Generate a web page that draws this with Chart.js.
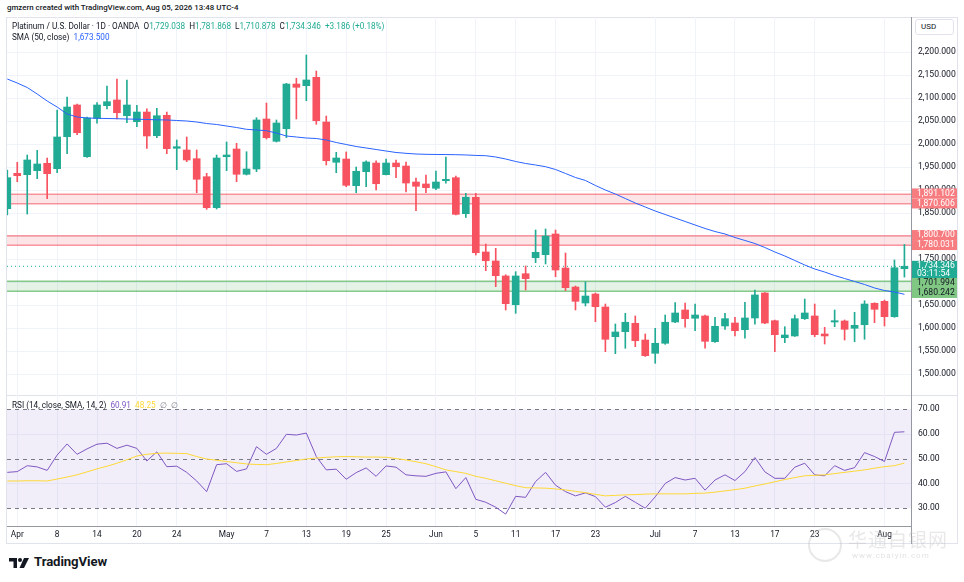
<!DOCTYPE html>
<html>
<head>
<meta charset="utf-8">
<script src="https://cdn.jsdelivr.net/npm/chart.js@4.4.0/dist/chart.umd.min.js"></script>
<style>
  body { margin: 0; background: #fff; width: 964px; height: 582px; position: relative; overflow: hidden; font-family: Roboto, "Noto Sans", sans-serif; color: #131722; }
  .abs { position: absolute; }
  .frame { left: 6px; top: 17px; width: 952px; height: 527px; border: 1px solid #e0e3eb; box-sizing: border-box; }
  .legend { font-size: 8.2px; white-space: nowrap; }
  .up { color: #22ab94; }
  .usd { left: 915px; top: 19px; width: 39px; height: 16px; border: 1px solid #e0e3eb; border-radius: 3px; box-sizing: border-box; font-size: 8px; line-height: 14px; padding-left: 5px; background: #fff; }
</style>
</head>
<body>
<div class="abs" style="left:7px;top:3px;font-size:7.9px;font-weight:500;">gmzern created with TradingView.com, Aug 05, 2026 13:48 UTC-4</div>
<div class="abs frame"></div>

<div class="abs" style="left:0;top:17px;width:964px;height:378px;"><canvas id="price" width="964" height="378"></canvas></div>
<div class="abs" style="left:6px;top:395px;width:952px;height:1px;background:#e0e3eb;"></div>
<div class="abs" style="left:0;top:395px;width:964px;height:150px;"><canvas id="rsi" width="964" height="150"></canvas></div>
<div class="abs" style="left:911px;top:17px;width:1px;height:527px;background:#9598a1;"></div>

<div class="abs legend" style="left:12px;top:21px;">Platinum / U.S. Dollar · 1D · OANDA &nbsp;O<span class="up">1,729.038</span> &nbsp;H<span class="up">1,781.868</span> &nbsp;L<span class="up">1,710.878</span> &nbsp;C<span class="up">1,734.346</span> &nbsp;<span class="up">+3.186 (+0.18%)</span></div>
<div class="abs legend" style="left:12px;top:32px;">SMA (50, close) &nbsp;<span style="color:#2962ff">1,673.500</span></div>
<div class="abs legend" style="left:12px;top:400px;">RSI (14, close, SMA, 14, 2) &nbsp;<span style="color:#7e57c2">60.91</span> &nbsp;<span style="color:#fdd835">48.25</span> &nbsp;<span style="color:#787b86">∅ &nbsp;∅</span></div>
<div class="abs usd">USD</div>

<!-- watermark -->
<div class="abs" style="left:808px;top:528px;width:30px;height:30px;border:2px solid rgba(190,190,190,0.35);border-radius:50%;"></div>
<div class="abs" style="left:848px;top:525px;font-size:19px;color:rgba(190,190,190,0.35);font-family:'Noto Sans CJK SC';letter-spacing:1px;">华通白银网</div>
<div class="abs" style="left:852px;top:551px;font-size:8px;color:rgba(190,190,190,0.45);letter-spacing:1px;">www.cbaiyin.com</div>

<!-- TradingView logo -->
<svg class="abs" style="left:9px;top:558px;" width="24" height="10" viewBox="0 0 24 10">
  <path d="M0 0 H8 V10 H4.5 V3.5 H0 Z" fill="#131722"/>
  <circle cx="11" cy="2" r="2" fill="#131722"/>
  <path d="M15 0 H20 L15 10 H10.5 Z" fill="#131722"/>
</svg>
<div class="abs" style="left:34px;top:554px;font-size:13.2px;font-weight:700;letter-spacing:-0.1px;">TradingView</div>

<script>
// trading days (Good Friday closed)
const dates = [
  '2026-03-31','2026-04-01','2026-04-02','2026-04-06','2026-04-07','2026-04-08','2026-04-09','2026-04-10','2026-04-13','2026-04-14',
  '2026-04-15','2026-04-16','2026-04-17','2026-04-20','2026-04-21','2026-04-22','2026-04-23','2026-04-24','2026-04-27','2026-04-28',
  '2026-04-29','2026-04-30','2026-05-01','2026-05-04','2026-05-05','2026-05-06','2026-05-07','2026-05-08','2026-05-11','2026-05-12',
  '2026-05-13','2026-05-14','2026-05-15','2026-05-18','2026-05-19','2026-05-20','2026-05-21','2026-05-22','2026-05-25','2026-05-26',
  '2026-05-27','2026-05-28','2026-05-29','2026-06-01','2026-06-02','2026-06-03','2026-06-04','2026-06-05','2026-06-08','2026-06-09',
  '2026-06-10','2026-06-11','2026-06-12','2026-06-15','2026-06-16','2026-06-17','2026-06-18','2026-06-19','2026-06-22','2026-06-23',
  '2026-06-24','2026-06-25','2026-06-26','2026-06-29','2026-06-30','2026-07-01','2026-07-02','2026-07-03','2026-07-06','2026-07-07',
  '2026-07-08','2026-07-09','2026-07-10','2026-07-13','2026-07-14','2026-07-15','2026-07-16','2026-07-17','2026-07-20','2026-07-21',
  '2026-07-22','2026-07-23','2026-07-24','2026-07-27','2026-07-28','2026-07-29','2026-07-30','2026-07-31','2026-08-03','2026-08-04',
  '2026-08-05'
];

const open = [
  1859.6, 1936.6, 1933.6, 1942.3, 1958.4, 1946.6, 2016.2, 2085.2, 1972.7, 2056.3,
  2083.7, 2096.1, 2061.9, 2048.9, 2069.9, 2018.4, 2062.8, 1991.0, 1987.3, 1968.4,
  1929.2, 1861.8, 1972.7, 1989.5, 1934.5, 1946.0, 2054.7, 2006.2, 2033.6, 2130.8,
  2127.2, 2145.4, 2048.2, 1960.6, 1967.7, 1909.7, 1940.1, 1959.0, 1933.6, 1959.0,
  1952.5, 1917.7, 1913.4, 1904.0, 1920.5, 1927.1, 1848.8, 1884.4, 1765.5, 1745.9,
  1713.3, 1650.8, 1718.2, 1753.0, 1759.6, 1804.6, 1730.6, 1689.3, 1654.5, 1674.1,
  1645.8, 1581.2, 1592.1, 1610.4, 1574.0, 1545.1, 1566.9, 1613.2, 1639.3, 1621.3,
  1626.3, 1570.4, 1604.5, 1611.0, 1596.5, 1621.9, 1676.3, 1616.0, 1579.1, 1582.8,
  1620.4, 1626.3, 1587.1, 1613.2, 1615.4, 1599.5, 1607.3, 1653.9, 1658.2, 1624.7,
  1729.038
];
const high = [
  1943.8, 1960.6, 1976.4, 1986.6, 1969.9, 2074.3, 2102.6, 2087.4, 2059.1, 2090.2,
  2126.5, 2141.7, 2139.6, 2084.5, 2077.1, 2078.0, 2069.9, 2009.1, 2015.6, 1987.3,
  1936.6, 1976.4, 2004.7, 2001.9, 1983.6, 2057.6, 2089.5, 2052.6, 2132.4, 2143.3,
  2193.9, 2159.1, 2061.2, 1982.3, 1983.0, 1950.3, 1964.0, 1964.0, 1967.7, 1965.6,
  1961.2, 1926.4, 1932.9, 1941.6, 1972.1, 1930.8, 1893.1, 1893.1, 1782.8, 1773.5,
  1716.0, 1722.6, 1735.0, 1813.3, 1815.5, 1813.3, 1763.3, 1691.5, 1700.8, 1676.3,
  1652.3, 1608.9, 1632.1, 1626.3, 1587.1, 1599.5, 1628.4, 1655.2, 1654.5, 1652.3,
  1628.4, 1623.4, 1632.1, 1623.4, 1656.0, 1682.8, 1677.4, 1617.5, 1603.0, 1628.4,
  1663.2, 1652.3, 1601.7, 1639.3, 1617.5, 1634.3, 1659.5, 1655.0, 1661.0, 1748.0,
  1781.868
];
const low = [
  1845.9, 1918.4, 1848.1, 1924.9, 1881.4, 1937.9, 1979.3, 2020.6, 1971.4, 2045.4,
  2076.5, 2054.7, 2046.7, 2038.0, 1991.0, 2014.1, 1979.3, 1944.5, 1961.9, 1894.4,
  1858.3, 1859.0, 1942.3, 1918.4, 1932.9, 1940.1, 2011.2, 2004.7, 2014.1, 2054.7,
  2094.5, 2043.2, 1954.7, 1937.9, 1907.5, 1894.4, 1907.5, 1900.3, 1932.9, 1927.1,
  1896.0, 1855.3, 1894.4, 1901.0, 1914.9, 1845.9, 1840.5, 1758.9, 1724.8, 1690.0,
  1639.3, 1632.1, 1682.8, 1742.2, 1739.4, 1711.7, 1681.3, 1639.3, 1648.0, 1613.8,
  1548.6, 1544.3, 1556.0, 1559.5, 1538.2, 1523.4, 1564.7, 1611.7, 1601.7, 1594.3,
  1556.0, 1568.6, 1597.3, 1582.8, 1577.8, 1608.2, 1609.5, 1548.6, 1568.2, 1581.7,
  1618.6, 1581.2, 1565.3, 1603.0, 1574.0, 1570.4, 1575.6, 1611.7, 1604.5, 1623.4,
  1710.878
];
const close = [
  1927.1, 1931.4, 1965.6, 1956.9, 1935.8, 2015.6, 2080.8, 2024.9, 2056.9, 2085.2,
  2092.4, 2068.4, 2085.2, 2069.9, 2017.8, 2061.9, 1990.1, 1994.5, 1965.6, 1923.6,
  1861.8, 1969.9, 1976.4, 1934.5, 1946.0, 2052.6, 2014.1, 2046.0, 2130.8, 2123.7,
  2139.6, 2051.0, 1964.0, 1969.9, 1910.5, 1941.0, 1961.2, 1914.0, 1959.0, 1951.0,
  1915.5, 1908.4, 1905.3, 1917.7, 1923.6, 1847.4, 1884.6, 1763.9, 1746.5, 1713.9,
  1653.0, 1713.3, 1707.4, 1764.8, 1800.2, 1726.3, 1687.8, 1658.2, 1669.7, 1646.5,
  1575.6, 1591.5, 1612.6, 1572.5, 1539.9, 1566.9, 1612.6, 1632.8, 1620.4, 1628.4,
  1571.2, 1603.8, 1620.4, 1594.3, 1621.9, 1672.0, 1611.0, 1585.6, 1584.9, 1620.4,
  1632.8, 1585.6, 1582.8, 1616.0, 1597.3, 1606.0, 1652.3, 1640.8, 1624.7, 1731.2,
  1734.346
];
const sma50 = [
  2141.7, 2133.0, 2123.2, 2109.1, 2093.9, 2080.8, 2065.6, 2059.1, 2056.9, 2056.3,
  2055.8, 2055.4, 2054.7, 2054.3, 2053.6, 2053.0, 2052.6, 2051.5, 2050.4, 2048.2,
  2044.9, 2042.8, 2039.5, 2036.2, 2032.3, 2030.8, 2029.3, 2024.2, 2017.7, 2015.6,
  2013.4, 2012.3, 2009.0, 2003.6, 1999.3, 1994.9, 1991.7, 1988.4, 1985.1, 1981.9,
  1980.1, 1978.6, 1977.9, 1977.6, 1977.4, 1977.1, 1976.5, 1975.5, 1974.9, 1972.1,
  1967.7, 1962.3, 1958.0, 1954.7, 1951.0, 1944.9, 1936.2, 1927.5, 1921.0, 1910.1,
  1900.3, 1891.6, 1881.8, 1872.0, 1863.3, 1854.6, 1847.0, 1839.4, 1831.8, 1824.2,
  1816.6, 1810.0, 1804.6, 1797.0, 1790.5, 1783.9, 1775.2, 1765.5, 1756.8, 1747.0,
  1737.2, 1728.5, 1721.9, 1714.3, 1707.8, 1701.3, 1694.8, 1687.2, 1681.7, 1678.4,
  1673.5
];
const rsi = [
  44.5, 44.8, 47.2, 46.7, 45.3, 51.5, 56.0, 51.8, 54.0, 55.9,
  56.3, 54.2, 55.5, 54.2, 49.1, 52.8, 46.8, 47.0, 44.5, 41.0,
  36.7, 47.6, 48.0, 44.9, 45.9, 54.9, 51.8, 54.2, 59.9, 59.6,
  60.4, 50.9, 45.5, 45.8, 41.7, 44.4, 46.3, 42.9, 47.1, 46.6,
  43.5, 43.1, 42.9, 44.1, 44.7, 37.9, 42.4, 33.6, 32.4, 30.4,
  27.6, 34.8, 34.4, 40.8, 44.5, 39.3, 36.7, 35.0, 36.2, 34.7,
  30.4, 32.3, 34.8, 32.4, 30.0, 34.6, 40.0, 42.4, 41.4, 42.1,
  37.3, 41.4, 43.5, 41.2, 44.8, 50.5, 44.7, 42.1, 42.1, 46.6,
  48.2, 43.5, 43.1, 47.2, 45.3, 46.4, 52.5, 50.9, 48.9, 60.7,
  60.91
];
const rsiSma = [
  41.0, 41.0, 41.1, 41.1, 41.0, 41.8, 42.6, 43.5, 44.7, 45.9,
  47.0, 48.2, 49.6, 51.1, 51.8, 52.2, 52.3, 52.2, 52.1, 50.9,
  49.9, 49.4, 48.9, 48.4, 47.9, 47.7, 47.6, 48.1, 48.7, 49.3,
  49.9, 50.3, 50.6, 50.8, 50.9, 50.8, 50.7, 50.7, 50.6, 50.1,
  49.5, 48.8, 48.0, 46.8, 45.5, 44.8, 44.1, 42.9, 42.1, 41.1,
  40.1, 39.1, 38.3, 38.2, 38.1, 37.8, 37.4, 36.8, 36.3, 35.6,
  35.0, 35.2, 35.4, 35.5, 35.7, 35.8, 35.8, 35.8, 35.8, 36.0,
  36.1, 36.5, 37.0, 37.5, 38.1, 39.0, 39.8, 40.7, 41.6, 42.4,
  43.1, 43.3, 43.5, 44.0, 44.5, 45.0, 45.5, 46.2, 46.8, 47.2,
  48.25
];

// axis ticks
const tickDates = ['2026-04-01','2026-04-08','2026-04-14','2026-04-20','2026-04-24','2026-05-01','2026-05-07','2026-05-13','2026-05-19','2026-05-25',
  '2026-06-01','2026-06-05','2026-06-11','2026-06-17','2026-06-23','2026-07-01','2026-07-07','2026-07-13','2026-07-17','2026-07-23','2026-08-03'];
const tickLabels = ['Apr','8','14','20','24','May','7','13','19','25','Jun','5','11','17','23','Jul','7','13','17','23','Aug'];
const priceTicks = [1500, 1550, 1600, 1650, 1700, 1750, 1800, 1850, 1900, 1950, 2000, 2050, 2100, 2150, 2200];
const rsiTicks = [30, 40, 50, 60, 70];

// support / resistance zones
const zoneTop = [1891.102, 1800.700, 1701.994];
const zoneBottom = [1870.606, 1780.031, 1680.242];
const zoneKind = ['red', 'red', 'green'];
const countdown = '03:11:54';

const FONT = 'Roboto, "Noto Sans", sans-serif';
const UP = '#22ab94';
const DOWN = '#f7525f';
const GRID = '#f0f3fa';
const X_MIN = -0.03, X_MAX = 90.66;

const tickIdx = tickDates.map(d => dates.indexOf(d));
const candleColors = close.map((c, i) => c >= open[i] ? UP : DOWN);
const lastClose = close[close.length - 1];

const zoneStyle = {
  red: { fill: 'rgba(242,54,69,0.13)', line: 'rgba(242,54,69,0.5)', badge: '#f77c80', text: '#ffffff' },
  green: { fill: 'rgba(76,175,80,0.15)', line: 'rgba(76,175,80,0.65)', badge: '#81c784', text: '#131722' }
};

function fmt(v, digits) {
  return v.toLocaleString('en-US', { minimumFractionDigits: digits, maximumFractionDigits: digits });
}

function hLine(ctx, area, y) {
  ctx.beginPath();
  ctx.moveTo(area.left, y);
  ctx.lineTo(area.right, y);
  ctx.stroke();
}

// no extra room for tick label overflow, the panes are laid out by hand
function noPad(s) {
  s.paddingTop = 0;
  s.paddingBottom = 0;
  s.paddingLeft = 0;
  s.paddingRight = 0;
}

const xScale = (showLabels) => ({
  type: 'linear',
  min: X_MIN,
  max: X_MAX,
  offset: false,
  afterBuildTicks: s => { s.ticks = tickIdx.map(v => ({ value: v })); },
  afterFit: s => { s.height = showLabels ? 19 : 0; noPad(s); },
  ticks: {
    display: showLabels,
    autoSkip: false,
    maxRotation: 0,
    padding: 4,
    color: '#131722',
    font: { family: FONT, size: 8.3 },
    callback: v => tickLabels[tickIdx.indexOf(v)]
  },
  grid: { color: GRID, drawTicks: false, offset: false },
  border: { display: showLabels, color: '#9598a1' }
});

const zonesPlugin = {
  id: 'zones',
  beforeDatasetsDraw(chart) {
    const { ctx, chartArea: a, scales: { y } } = chart;
    ctx.save();
    zoneTop.forEach((top, i) => {
      const st = zoneStyle[zoneKind[i]];
      const y1 = y.getPixelForValue(top);
      const y2 = y.getPixelForValue(zoneBottom[i]);
      ctx.fillStyle = st.fill;
      ctx.fillRect(a.left, y1, a.width, y2 - y1);
      ctx.strokeStyle = st.line;
      ctx.lineWidth = 1.5;
      hLine(ctx, a, y1);
      hLine(ctx, a, y2);
    });
    // last price dotted line
    ctx.strokeStyle = UP;
    ctx.lineWidth = 1;
    ctx.setLineDash([1, 3]);
    hLine(ctx, a, y.getPixelForValue(lastClose));
    ctx.restore();
  },
  afterDraw(chart) {
    const { ctx, chartArea: a, scales: { y } } = chart;
    const badges = [];
    zoneTop.forEach((top, i) => {
      const st = zoneStyle[zoneKind[i]];
      badges.push({ v: top, bg: st.badge, fg: st.text, lines: [fmt(top, 3)] });
      badges.push({ v: zoneBottom[i], bg: st.badge, fg: st.text, lines: [fmt(zoneBottom[i], 3)] });
    });
    badges.push({ v: lastClose, bg: UP, fg: '#ffffff', lines: [fmt(lastClose, 3), countdown], fixed: true });
    badges.sort((p, q) => q.v - p.v);

    let prev = null;
    badges.forEach(b => {
      b.h = b.lines.length > 1 ? 19.5 : 10;
      b.top = y.getPixelForValue(b.v) - 5.5;
      if (prev) {
        const overlap = prev.top + prev.h - b.top;
        if (overlap > 0) {
          if (prev.fixed) {
            b.top += overlap;
          } else {
            prev.top -= overlap / 2;
            b.top += overlap / 2;
          }
        }
      }
      prev = b;
    });

    ctx.save();
    ctx.font = '8.6px ' + FONT;
    ctx.textBaseline = 'middle';
    badges.forEach(b => {
      ctx.fillStyle = b.bg;
      ctx.fillRect(a.right + 1, b.top, 45, b.h);
      ctx.fillStyle = b.fg;
      b.lines.forEach((t, k) => ctx.fillText(t, a.right + 6, b.top + 5.2 + k * 8.2));
    });
    ctx.restore();
  }
};

new Chart(document.getElementById('price'), {
  type: 'bar',
  data: {
    datasets: [
      {
        type: 'line',
        data: sma50.map((v, i) => ({ x: i, y: v })),
        borderColor: '#2962ff',
        borderWidth: 1,
        pointRadius: 0,
        order: 0
      },
      {
        data: low.map((v, i) => ({ x: i, y: [v, high[i]] })),
        backgroundColor: candleColors,
        barThickness: 1,
        grouped: false,
        minBarLength: 1,
        order: 2
      },
      {
        data: open.map((v, i) => ({ x: i, y: [v, close[i]] })),
        backgroundColor: candleColors,
        barThickness: 7,
        grouped: false,
        minBarLength: 1,
        order: 1
      }
    ]
  },
  options: {
    responsive: false,
    animation: false,
    layout: { autoPadding: false, padding: { left: 7, right: 0, top: 0, bottom: 0 } },
    plugins: { legend: { display: false }, tooltip: { enabled: false } },
    scales: {
      x: xScale(false),
      y: {
        position: 'right',
        min: 1454.4,
        max: 2276.6,
        afterBuildTicks: s => { s.ticks = priceTicks.map(v => ({ value: v })); },
        afterFit: s => { s.width = 53; noPad(s); },
        ticks: {
          padding: 7,
          color: '#131722',
          font: { family: FONT, size: 8.6 },
          callback: v => fmt(v, 3)
        },
        grid: { color: GRID, drawTicks: false },
        border: { display: false }
      }
    }
  },
  plugins: [zonesPlugin]
});

const rsiBandPlugin = {
  id: 'rsiBand',
  beforeDatasetsDraw(chart) {
    const { ctx, chartArea: a, scales: { y } } = chart;
    const y70 = y.getPixelForValue(70);
    const y30 = y.getPixelForValue(30);
    ctx.save();
    ctx.fillStyle = 'rgba(126,87,194,0.1)';
    ctx.fillRect(a.left, y70, a.width, y30 - y70);
    ctx.strokeStyle = '#787b86';
    ctx.lineWidth = 1;
    ctx.setLineDash([4, 4]);
    [70, 50, 30].forEach(v => hLine(ctx, a, Math.round(y.getPixelForValue(v)) + 0.5));
    ctx.restore();
  }
};

new Chart(document.getElementById('rsi'), {
  type: 'line',
  data: {
    datasets: [
      {
        data: rsiSma.map((v, i) => ({ x: i, y: v })),
        borderColor: '#fdd835',
        borderWidth: 1,
        pointRadius: 0
      },
      {
        data: rsi.map((v, i) => ({ x: i, y: v })),
        borderColor: '#7e57c2',
        borderWidth: 1,
        pointRadius: 0
      }
    ]
  },
  options: {
    responsive: false,
    animation: false,
    layout: { autoPadding: false, padding: { left: 7, right: 0, top: 0, bottom: 0 } },
    plugins: { legend: { display: false }, tooltip: { enabled: false } },
    scales: {
      x: xScale(true),
      y: {
        position: 'right',
        min: 22.8,
        max: 75.8,
        afterBuildTicks: s => { s.ticks = rsiTicks.map(v => ({ value: v })); },
        afterFit: s => { s.width = 53; noPad(s); },
        ticks: {
          padding: 7,
          color: '#131722',
          font: { family: FONT, size: 8.6 },
          callback: v => v.toFixed(2)
        },
        grid: {
          color: c => (c.tick && (c.tick.value === 40 || c.tick.value === 60)) ? GRID : 'rgba(0,0,0,0)',
          drawTicks: false
        },
        border: { display: false }
      }
    }
  },
  plugins: [rsiBandPlugin]
});
</script>
</body>
</html>
